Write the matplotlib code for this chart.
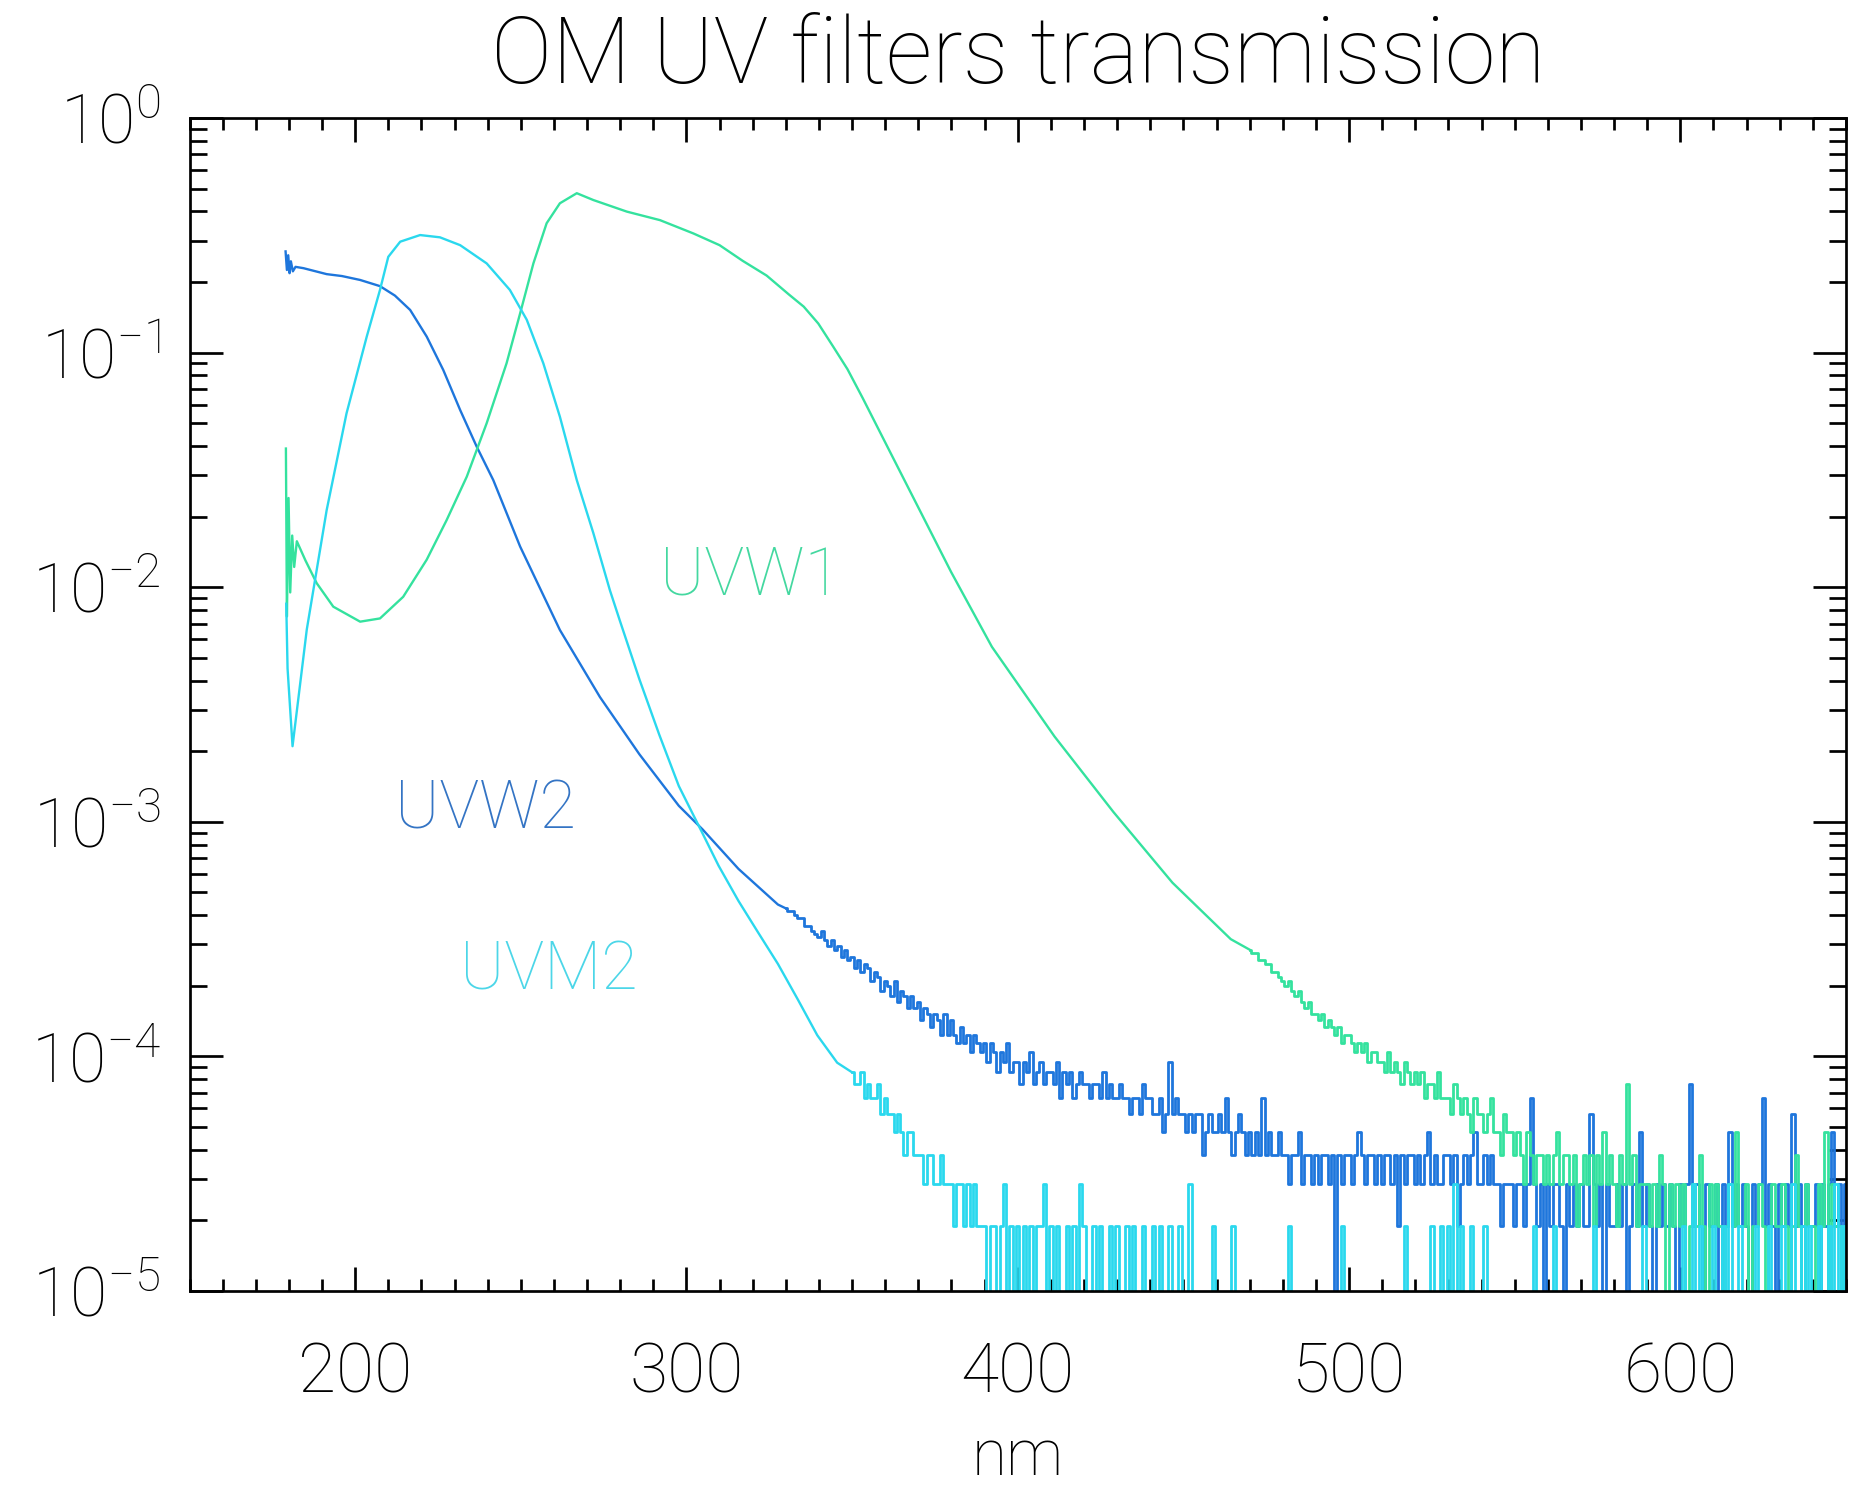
import numpy as np
import matplotlib
matplotlib.use("Agg")
import matplotlib.pyplot as plt
from matplotlib.ticker import MultipleLocator, FixedLocator, FuncFormatter, NullFormatter

plt.rcParams["font.family"] = ["Roboto", "DejaVu Sans"]
plt.rcParams["font.weight"] = "light"
plt.rcParams["axes.labelweight"] = "light"
plt.rcParams["mathtext.fontset"] = "custom"
plt.rcParams["mathtext.rm"] = "Roboto:light"
plt.rcParams["mathtext.it"] = "Roboto:light"
plt.rcParams["mathtext.bf"] = "Roboto:light"
plt.rcParams["mathtext.default"] = "rm"

# ---- measured transmission curves (wavelength in nm) ----
# smooth parts as (nm, transmission) knots, noisy tails as photon counts on a 1 nm grid
COUNT = 9.5e-6   # transmission per count in the faint tails

uvw2_nm = [179.0, 179.4, 179.8, 180.2, 180.6, 181.2, 182.0, 184.4, 191.4, 196.0,
           201.5, 207.5, 212.0, 216.6, 221.6, 226.6, 231.7, 236.7, 241.7, 249.8,
           261.8, 273.9, 285.8, 297.7, 304.9, 315.7, 327.6]
uvw2_val = [0.27, 0.225, 0.26, 0.218, 0.245, 0.222, 0.232, 0.229, 0.216, 0.212,
            0.204, 0.192, 0.175, 0.152, 0.117, 0.0843, 0.0569, 0.0397, 0.0286, 0.0149,
            0.00657, 0.0034, 0.00194, 0.00117, 9.27e-4, 6.3e-4, 4.44e-4]
uvw2_tail_start = 330
uvw2_counts = [
    45, 44, 44, 42, 41, 41, 38, 38, 36, 35,
    34, 36, 33, 31, 33, 30, 31, 28, 30, 27,
    28, 25, 27, 24, 26, 25, 22, 24, 23, 20,
    22, 21, 19, 22, 18, 20, 19, 17, 19, 17,
    18, 15, 17, 16, 14, 16, 15, 13, 16, 13,
    15, 13, 12, 14, 12, 13, 11, 13, 12, 11,
    12, 10, 12, 11, 9, 11, 10, 12, 9, 10,
    10, 8, 10, 9, 11, 8, 9, 10, 8, 9,
    9, 8, 10, 7, 9, 8, 9, 7, 8, 9,
    8, 8, 7, 8, 8, 7, 9, 7, 8, 7,
    7, 8, 7, 7, 6, 7, 7, 6, 8, 7,
    7, 6, 6, 7, 5, 6, 10, 6, 7, 6,
    6, 5, 6, 5, 6, 6, 4, 5, 6, 5,
    5, 6, 5, 7, 5, 4, 5, 6, 5, 4,
    5, 4, 5, 4, 7, 4, 5, 4, 4, 5,
    4, 4, 3, 4, 4, 5, 3, 4, 4, 3,
    4, 3, 4, 4, 3, 4, 1, 4, 3, 4,
    4, 3, 4, 5, 4, 3, 4, 4, 3, 4,
    3, 4, 4, 3, 4, 2, 4, 3, 4, 4,
    3, 4, 3, 4, 5, 3, 4, 3, 3, 4,
    4, 3, 4, 2, 3, 4, 3, 4, 5, 3,
    3, 4, 3, 4, 3, 3, 2, 3, 3, 3,
    2, 3, 3, 2, 3, 7, 3, 2, 3, 1,
    3, 2, 3, 3, 2, 0, 3, 2, 3, 2,
    3, 2, 2, 6, 3, 2, 3, 1, 3, 2,
    2, 3, 2, 3, 1, 2, 3, 2, 5, 2,
    3, 2, 0, 3, 2, 3, 2, 3, 2, 1,
    3, 2, 3, 8, 2, 3, 2, 0, 3, 2,
    2, 3, 1, 3, 2, 5, 2, 3, 2, 3,
    2, 0, 3, 2, 3, 7, 2, 3, 2, 1,
    3, 2, 3, 2, 6, 2, 3, 2, 3, 2,
    2, 3, 0, 3, 2, 3, 5, 2, 3, 2,
    3]

uvm2_nm = [179.2, 179.6, 181.1, 185.4, 191.4, 197.4, 203.5, 207.5, 210.0, 213.6,
           219.6, 225.6, 231.7, 239.7, 246.7, 251.8, 256.8, 261.8, 266.9, 271.9,
           276.9, 279.9, 285.8, 291.8, 297.7, 304.9, 309.7, 315.7, 321.6, 327.6,
           333.6, 339.5, 345.5]
uvm2_val = [0.0085, 0.0045, 0.0021, 0.0066, 0.0213, 0.0551, 0.117, 0.185, 0.256, 0.297,
            0.317, 0.310, 0.287, 0.240, 0.185, 0.138, 0.090, 0.0533, 0.0286, 0.0170,
            0.0097, 0.0072, 0.00405, 0.00235, 0.00142, 8.9e-4, 6.5e-4, 4.6e-4, 3.38e-4, 2.48e-4,
            1.75e-4, 1.23e-4, 9.4e-5]
uvm2_tail_start = 350
uvm2_counts = [
    9, 8, 8, 9, 7, 8, 7, 7, 8, 6,
    7, 6, 6, 5, 6, 5, 4, 5, 5, 4,
    4, 4, 3, 4, 4, 3, 3, 4, 3, 3,
    3, 2, 3, 3, 2, 3, 2, 3, 2, 2,
    2, 1, 2, 2, 0, 2, 3, 1, 2, 0,
    2, 0, 2, 1, 2, 0, 2, 2, 3, 0,
    2, 0, 2, 0, 1, 2, 0, 2, 0, 3,
    2, 0, 1, 2, 0, 2, 0, 1, 2, 0,
    2, 0, 0, 2, 0, 2, 0, 0, 2, 0,
    0, 2, 0, 2, 0, 0, 2, 0, 0, 2,
    0, 0, 3, 0, 0, 0, 0, 0, 0, 2,
    0, 0, 0, 0, 0, 2, 0, 0, 0, 0,
    0, 0, 0, 0, 0, 0, 0, 0, 0, 0,
    0, 0, 2, 0, 0, 0, 0, 0, 0, 0,
    0, 0, 0, 0, 0, 0, 0, 0, 2, 0,
    0, 0, 0, 0, 0, 0, 0, 0, 0, 0,
    0, 0, 0, 0, 0, 0, 0, 2, 0, 0,
    0, 0, 0, 0, 1, 2, 0, 0, 2, 0,
    2, 0, 3, 0, 2, 0, 0, 2, 0, 0,
    0, 2, 0, 0, 0, 0, 0, 0, 0, 0,
    0, 0, 0, 0, 0, 0, 2, 0, 0, 0,
    0, 0, 2, 0, 0, 0, 0, 0, 0, 0,
    0, 0, 0, 0, 2, 0, 0, 0, 0, 0,
    0, 0, 0, 0, 0, 0, 0, 0, 0, 2,
    0, 0, 0, 0, 0, 0, 0, 0, 0, 0,
    0, 2, 0, 0, 3, 0, 2, 0, 0, 0,
    2, 0, 0, 2, 0, 3, 0, 0, 2, 0,
    0, 0, 0, 2, 0, 0, 0, 2, 0, 0,
    0, 2, 0, 0, 3, 0, 0, 2, 0, 2,
    0, 0, 2, 0, 0, 2, 0, 3, 0, 2,
    0]

uvw1_nm = [179.1, 179.4, 179.9, 180.4, 181.0, 181.6, 182.4, 185.0, 188.4, 193.4,
           201.5, 207.5, 214.5, 221.6, 227.6, 233.7, 239.7, 245.7, 249.8, 253.8,
           257.8, 261.8, 266.9, 271.9, 282.0, 292.0, 302.1, 310.0, 317.0, 324.2,
           330.9, 335.4, 339.8, 344.3, 348.6, 353.2, 362.1, 371.0, 379.9, 392.2,
           411.1, 428.9, 446.7, 464.3]
uvw1_val = [0.039, 0.0075, 0.024, 0.0095, 0.0166, 0.0122, 0.0157, 0.0130, 0.0104, 0.00826,
            0.00713, 0.00736, 0.0091, 0.0131, 0.0193, 0.0296, 0.050, 0.090, 0.147, 0.240,
            0.356, 0.433, 0.478, 0.447, 0.399, 0.367, 0.322, 0.287, 0.246, 0.213,
            0.177, 0.157, 0.133, 0.106, 0.085, 0.064, 0.0362, 0.0205, 0.0116, 0.00557,
            0.00231, 0.0011, 5.5e-4, 3.16e-4]
uvw1_tail_start = 470
uvw1_counts = [
    30, 29, 29, 27, 27, 26, 26, 24, 24, 23,
    22, 21, 22, 20, 19, 20, 18, 17, 18, 16,
    16, 15, 16, 14, 15, 14, 13, 14, 12, 13,
    13, 12, 11, 12, 11, 12, 10, 11, 11, 10,
    10, 9, 11, 9, 10, 9, 8, 10, 9, 8,
    9, 8, 9, 7, 8, 8, 7, 9, 7, 7,
    7, 6, 8, 7, 6, 7, 6, 5, 7, 6,
    6, 5, 6, 7, 5, 5, 4, 6, 5, 5,
    4, 5, 4, 3, 5, 4, 3, 4, 4, 3,
    4, 3, 4, 5, 3, 4, 4, 3, 4, 2,
    3, 4, 3, 4, 2, 4, 3, 5, 3, 4,
    3, 2, 4, 3, 8, 3, 4, 2, 3, 3,
    3, 2, 3, 2, 4, 3, 1, 3, 2, 3,
    2, 3, 1, 2, 3, 2, 4, 2, 1, 3,
    2, 3, 2, 1, 2, 3, 2, 5, 2, 2,
    3, 1, 2, 2, 3, 2, 0, 2, 3, 2,
    2, 3, 2, 0, 2, 4, 2, 1, 3, 2,
    2, 1, 3, 2, 5, 0, 3, 2, 2, 1,
    2]

labels = ["UVW2", "UVM2", "UVW1"]
colors = {"UVW2": "#1e76dc", "UVM2": "#2ad8ee", "UVW1": "#34e29e"}
label_colors = {"UVW2": "#3474c4", "UVM2": "#4cd6e8", "UVW1": "#44d8a0"}
# lower-left corner of each curve label (nm, transmission)
label_pos = {"UVW2": (212.1, 9.4e-4), "UVM2": (231.7, 1.92e-4), "UVW1": (292.1, 9.27e-3)}

series = {
    "UVW2": (uvw2_nm, uvw2_val, uvw2_tail_start, uvw2_counts),
    "UVM2": (uvm2_nm, uvm2_val, uvm2_tail_start, uvm2_counts),
    "UVW1": (uvw1_nm, uvw1_val, uvw1_tail_start, uvw1_counts),
}

W, H = 1857, 1496
fig = plt.figure(figsize=(W / 100, H / 100), dpi=100)
left, right, top, bottom = 189.5, 1846, 118, 1291
ax = fig.add_axes([left / W, 1 - bottom / H, (right - left) / W, (bottom - top) / H])

for name in ["UVW2", "UVW1", "UVM2"]:
    nm, val, start, counts = series[name]
    tail_nm = np.arange(start, start + len(counts))
    tail_val = np.asarray(counts, dtype=float) * COUNT
    # smooth part runs into the first tail bin, the tail is drawn as a histogram
    ax.plot(list(nm) + [tail_nm[0]], list(val) + [tail_val[0]],
            color=colors[name], lw=1.7)
    ax.plot(tail_nm, tail_val, color=colors[name], lw=2.0, drawstyle="steps-mid")

for name in labels:
    px, py = label_pos[name]
    ax.text(px, py, name, color=label_colors[name], fontsize=48,
            ha="left", va="baseline")

ax.set_yscale("log", nonpositive="clip")
ax.set_xlim(150, 650)
ax.set_ylim(1e-5, 1)

ax.xaxis.set_major_locator(MultipleLocator(100))
ax.xaxis.set_minor_locator(MultipleLocator(10))
ax.yaxis.set_major_locator(FixedLocator([10.0 ** k for k in range(-5, 1)]))
ax.yaxis.set_minor_locator(FixedLocator([m * 10.0 ** k for k in range(-5, 0) for m in range(2, 10)]))
ax.yaxis.set_major_formatter(FuncFormatter(lambda v, p: r"$10^{%d}$" % round(np.log10(v))))
ax.yaxis.set_minor_formatter(NullFormatter())

for s in ax.spines.values():
    s.set_linewidth(1.95)

ax.tick_params(which="both", direction="in", top=True, right=True, width=1.95, colors="black")
ax.tick_params(axis="x", which="major", length=17, pad=36, labelsize=50)
ax.tick_params(axis="x", which="minor", length=8.5)
ax.tick_params(axis="y", which="major", length=24, pad=21, labelsize=49)
ax.tick_params(axis="y", which="minor", length=12)

ax.set_xlabel("nm", fontsize=46, fontweight="light", labelpad=14)
fig.text(((left + right) / 2) / W, 1 - 82.6 / H, "OM UV filters transmission",
         fontsize=66, fontweight="light", ha="center", va="baseline")

fig.savefig("out.png", dpi=100, facecolor="white")
